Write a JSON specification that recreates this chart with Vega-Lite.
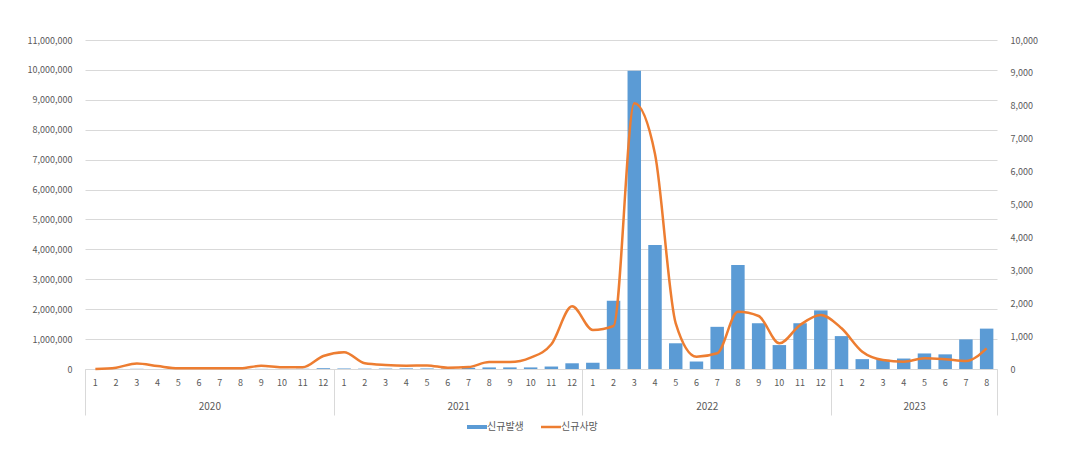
{
  "$schema": "https://vega.github.io/schema/vega-lite/v6.json",
  "width": 912,
  "height": 329,
  "autosize": "none",
  "padding": {"left": 85, "top": 40, "right": 68, "bottom": 95},
  "background": "white",
  "config": {
    "view": {"stroke": null},
    "font": "Noto Sans CJK KR",
    "axis": {"labelColor": "#595959", "labelFontSize": 9, "titleColor": "#595959"}
  },
  "datasets": {
    "monthly": [
      {"ym": "2020-01", "cases": 11, "deaths": 0},
      {"ym": "2020-02", "cases": 3139, "deaths": 40},
      {"ym": "2020-03", "cases": 6636, "deaths": 170},
      {"ym": "2020-04", "cases": 979, "deaths": 90},
      {"ym": "2020-05", "cases": 703, "deaths": 20},
      {"ym": "2020-06", "cases": 1331, "deaths": 20},
      {"ym": "2020-07", "cases": 1486, "deaths": 20},
      {"ym": "2020-08", "cases": 5642, "deaths": 20},
      {"ym": "2020-09", "cases": 3865, "deaths": 100},
      {"ym": "2020-10", "cases": 2700, "deaths": 50},
      {"ym": "2020-11", "cases": 7690, "deaths": 50},
      {"ym": "2020-12", "cases": 26527, "deaths": 395},
      {"ym": "2021-01", "cases": 17432, "deaths": 510},
      {"ym": "2021-02", "cases": 11520, "deaths": 173},
      {"ym": "2021-03", "cases": 13437, "deaths": 120},
      {"ym": "2021-04", "cases": 19343, "deaths": 100},
      {"ym": "2021-05", "cases": 17563, "deaths": 110},
      {"ym": "2021-06", "cases": 15300, "deaths": 40},
      {"ym": "2021-07", "cases": 41374, "deaths": 60},
      {"ym": "2021-08", "cases": 52852, "deaths": 210},
      {"ym": "2021-09", "cases": 53659, "deaths": 210},
      {"ym": "2021-10", "cases": 53289, "deaths": 345},
      {"ym": "2021-11", "cases": 82710, "deaths": 750},
      {"ym": "2021-12", "cases": 191090, "deaths": 1905},
      {"ym": "2022-01", "cases": 210000, "deaths": 1185},
      {"ym": "2022-02", "cases": 2280000, "deaths": 1307},
      {"ym": "2022-03", "cases": 9970000, "deaths": 8075},
      {"ym": "2022-04", "cases": 4150000, "deaths": 6535},
      {"ym": "2022-05", "cases": 860000, "deaths": 1389},
      {"ym": "2022-06", "cases": 250000, "deaths": 374},
      {"ym": "2022-07", "cases": 1410000, "deaths": 477},
      {"ym": "2022-08", "cases": 3480000, "deaths": 1742},
      {"ym": "2022-09", "cases": 1530000, "deaths": 1611},
      {"ym": "2022-10", "cases": 800000, "deaths": 780},
      {"ym": "2022-11", "cases": 1530000, "deaths": 1337},
      {"ym": "2022-12", "cases": 1960000, "deaths": 1641},
      {"ym": "2023-01", "cases": 1100000, "deaths": 1237},
      {"ym": "2023-02", "cases": 330000, "deaths": 526},
      {"ym": "2023-03", "cases": 310000, "deaths": 274},
      {"ym": "2023-04", "cases": 350000, "deaths": 222},
      {"ym": "2023-05", "cases": 520000, "deaths": 325},
      {"ym": "2023-06", "cases": 490000, "deaths": 295},
      {"ym": "2023-07", "cases": 990000, "deaths": 243},
      {"ym": "2023-08", "cases": 1350000, "deaths": 629}
    ],
    "years": [
      {"year": "2020", "start": 0, "end": 12},
      {"year": "2021", "start": 12, "end": 24},
      {"year": "2022", "start": 24, "end": 36},
      {"year": "2023", "start": 36, "end": 44}
    ]
  },
  "layer": [
    {
      "layer": [
        {
          "data": {"name": "monthly"},
          "mark": {"type": "bar", "color": "#5B9BD5"},
          "encoding": {
            "x": {
              "field": "ym", "type": "ordinal", "sort": null,
              "scale": {"paddingInner": 0.35, "paddingOuter": 0.175},
              "axis": {
                "title": null, "labelAngle": 0, "ticks": false, "labelPadding": 9,
                "labelOverlap": false, "domain": true, "domainColor": "#D9D9D9",
                "labelExpr": "'' + toNumber(substring(datum.value, 5))"
              }
            },
            "y": {
              "field": "cases", "type": "quantitative",
              "scale": {"domain": [0, 11000000], "nice": false},
              "axis": {
                "title": null, "orient": "left", "format": ",.0f", "domain": false, "ticks": false,
                "labelPadding": 13, "grid": true, "gridColor": "#D9D9D9",
                "values": [0, 1000000, 2000000, 3000000, 4000000, 5000000, 6000000, 7000000, 8000000, 9000000, 10000000, 11000000]
              }
            },
            "color": {
              "datum": "신규발생", "type": "nominal",
              "scale": {"domain": ["신규발생", "신규사망"], "range": ["#5B9BD5", "#ED7D31"]},
              "legend": {
                "orient": "none", "legendX": 387, "legendY": 382, "direction": "horizontal",
                "title": null, "labelFontSize": 10, "labelColor": "#595959", "symbolSize": 400,
                "columnPadding": 12, "labelOffset": 5,
                "encode": {
                  "symbols": {
                    "update": {
                      "shape": {"signal": "datum.value === '신규발생' ? 'M-1,-0.2H1V0.2H-1Z' : 'M-1,0H1'"},
                      "fill": {"signal": "datum.value === '신규발생' ? '#5B9BD5' : 'transparent'"},
                      "stroke": {"signal": "datum.value === '신규발생' ? '#5B9BD5' : '#ED7D31'"},
                      "strokeWidth": {"signal": "datum.value === '신규발생' ? 0 : 2.5"},
                      "opacity": {"value": 1}
                    }
                  }
                }
              }
            }
          }
        },
        {
          "data": {"name": "monthly"},
          "mark": {"type": "line", "interpolate": "monotone", "strokeWidth": 2.5},
          "encoding": {
            "x": {"field": "ym", "type": "ordinal", "sort": null},
            "y": {
              "field": "deaths", "type": "quantitative",
              "scale": {"domain": [0, 10000], "nice": false},
              "axis": {
                "title": null, "orient": "right", "format": ",.0f", "domain": false, "ticks": false,
                "labelPadding": 13, "grid": false,
                "values": [0, 1000, 2000, 3000, 4000, 5000, 6000, 7000, 8000, 9000, 10000]
              }
            },
            "color": {"datum": "신규사망", "type": "nominal"}
          }
        }
      ],
      "resolve": {"scale": {"y": "independent"}}
    },
    {
      "data": {"name": "years"},
      "mark": {"type": "rule", "opacity": 0},
      "encoding": {
        "x": {
          "field": "start", "type": "quantitative",
          "scale": {"domain": [0, 44], "nice": false, "zero": false},
          "axis": {
            "title": null, "orient": "bottom", "values": [0, 6, 12, 18, 24, 30, 36, 40, 44],
            "labelExpr": "datum.value == 6 ? '2020' : datum.value == 18 ? '2021' : datum.value == 30 ? '2022' : datum.value == 40 ? '2023' : ''",
            "domain": false, "grid": false, "ticks": true, "tickSize": 46,
            "tickColor": {"condition": {"test": "datum.value % 12 == 0 || datum.value == 44", "value": "#D9D9D9"}, "value": "transparent"},
            "labelPadding": -14, "labelFontSize": 10, "labelBaseline": "top",
            "labelOverlap": false, "labelFlush": false
          }
        },
        "x2": {"field": "end"}
      }
    }
  ],
  "resolve": {"scale": {"x": "independent", "y": "independent"}}
}
